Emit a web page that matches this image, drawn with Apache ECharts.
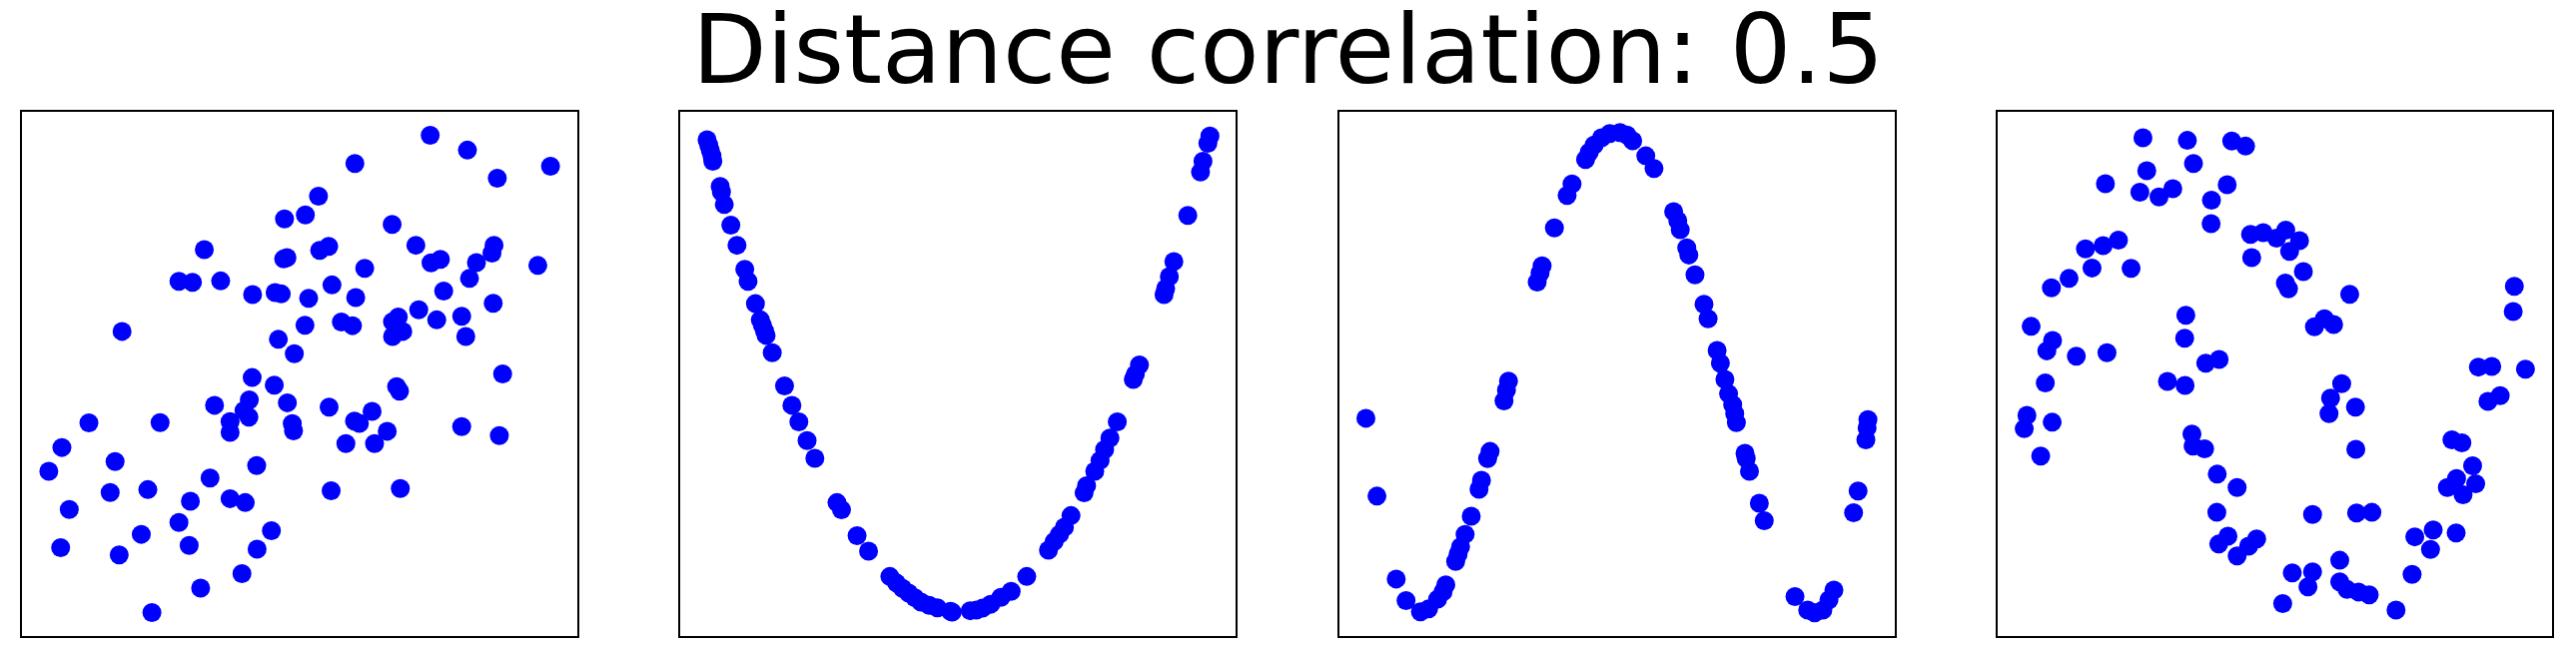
<!DOCTYPE html>
<html><head><meta charset="utf-8">
<script src="https://cdn.jsdelivr.net/npm/echarts@6/dist/echarts.min.js"></script>
<style>html,body{margin:0;padding:0;background:#fff}#c{width:2579px;height:655px}</style>
</head><body><div id="c"></div>
<script>
const title = "Distance correlation: 0.5";
// points read in per-panel pixel units (y grows downward); ranges = panel frame edges
const linearPts = [[1055,123],[1146,164],[871,201],[1349,209],[1219,242],[782,292],[699,355],[750,344],[962,370],[503,440],[1020,428],[1211,428],[1206,450],[785,442],[807,431],[697,466],[705,462],[1057,477],[1080,467],[1168,476],[1318,484],[895,492],[441,528],[474,531],[543,527],[1151,520],[621,565],[676,559],[691,563],[758,575],[815,538],[873,573],[1088,555],[1209,589],[1027,607],[1132,625],[1071,635],[749,650],[838,641],[865,651],[963,640],[977,627],[988,667],[963,681],[1142,681],[302,667],[684,689],[723,729],[620,795],[674,816],[973,820],[980,833],[1232,785],[528,872],[613,857],[600,887],[612,905],[706,865],[808,877],[913,889],[870,916],[882,922],[566,917],[566,947],[718,923],[721,943],[950,944],[1132,931],[1224,956],[221,921],[395,920],[849,978],[919,978],[155,989],[285,1028],[123,1055],[631,1039],[517,1074],[273,1114],[365,1106],[813,1109],[982,1103],[469,1138],[566,1131],[603,1142],[173,1161],[441,1197],[667,1220],[349,1230],[152,1267],[466,1261],[632,1271],[295,1287],[595,1339],[494,1379],[375,1447]];
const parabolaPts = [[118,135],[122,150],[126,165],[130,180],[132,195],[150,265],[153,280],[160,315],[176,372],[191,428],[210,495],[218,528],[236,590],[248,635],[253,650],[258,665],[262,678],[277,726],[307,818],[325,872],[342,918],[362,970],[381,1019],[435,1142],[446,1162],[484,1234],[512,1277],[564,1347],[580,1365],[595,1380],[610,1393],[625,1406],[640,1418],[660,1427],[680,1434],[712,1444],[716,1446],[760,1442],[775,1440],[790,1435],[810,1424],[835,1405],[860,1388],[898,1347],[951,1274],[965,1250],[978,1230],[990,1210],[1006,1178],[1038,1115],[1044,1095],[1064,1055],[1077,1025],[1088,995],[1101,963],[1119,918],[1158,800],[1163,786],[1173,760],[1233,565],[1237,548],[1246,515],[1257,473],[1291,345],[1322,225],[1328,195],[1340,145],[1345,125]];
const sinePts = [[115,908],[142,1124],[189,1354],[213,1414],[248,1445],[268,1437],[290,1410],[303,1390],[310,1370],[334,1305],[340,1285],[346,1265],[357,1230],[372,1180],[391,1105],[397,1080],[412,1020],[418,1000],[452,860],[458,830],[463,805],[533,530],[540,505],[545,485],[575,380],[606,290],[618,258],[651,190],[660,170],[672,150],[690,130],[710,118],[735,115],[752,122],[766,138],[798,180],[818,215],[866,335],[876,360],[882,385],[898,435],[903,455],[918,510],[940,592],[950,632],[972,720],[980,755],[991,800],[1000,840],[1010,870],[1015,895],[1019,920],[1040,1005],[1043,1020],[1051,1055],[1075,1144],[1087,1192],[1162,1403],[1193,1440],[1210,1448],[1230,1440],[1245,1412],[1257,1385],[1305,1170],[1316,1110],[1335,968],[1338,935],[1340,912]];
const ringPts = [[429,130],[545,137],[661,139],[697,153],[561,201],[439,221],[331,257],[421,281],[471,294],[507,271],[649,260],[608,303],[607,368],[710,398],[743,393],[778,408],[802,386],[838,415],[812,445],[713,462],[365,414],[325,429],[279,438],[296,491],[398,492],[236,520],[190,546],[848,501],[801,533],[809,549],[969,564],[1399,542],[1396,612],[541,622],[538,686],[877,654],[903,632],[927,648],[137,653],[193,692],[178,721],[255,736],[335,726],[593,755],[628,745],[1305,766],[1340,764],[1428,772],[493,806],[539,817],[174,810],[948,812],[919,852],[915,895],[984,877],[1330,861],[1362,845],[126,900],[119,937],[192,919],[557,952],[560,985],[590,993],[985,994],[1236,968],[1262,976],[162,1013],[1290,1040],[1248,1075],[1224,1100],[1298,1090],[1265,1120],[623,1063],[675,1100],[622,1169],[872,1175],[987,1171],[1027,1169],[651,1235],[627,1257],[726,1243],[705,1263],[675,1290],[1139,1237],[1187,1218],[1180,1272],[1247,1226],[943,1302],[819,1337],[872,1334],[860,1376],[943,1362],[962,1383],[992,1390],[1020,1398],[1132,1341],[794,1422],[1090,1440]];
const xRanges = [[55,1417],[50,1410],[48,1408],[47,1500]];
const yRange = [55,1515];
const allPts = [linearPts, parabolaPts, sinePts, ringPts];

const lefts = [21, 680, 1340, 1999], widths = [558, 558, 558, 557];
const chart = echarts.init(document.getElementById('c'));
chart.setOption({
  animation:false,
  title:{text:title,left:'center',top:4,textStyle:{fontFamily:'DejaVu Sans',fontSize:97,fontWeight:'normal',color:'#000'}},
  grid: lefts.map((l,i)=>({left:l,top:111,width:widths[i],height:527,show:true,borderColor:'#000',borderWidth:2,backgroundColor:'#fff'})),
  xAxis: xRanges.map((r,i)=>({gridIndex:i,type:'value',min:r[0],max:r[1],show:false})),
  yAxis: xRanges.map((r,i)=>({gridIndex:i,type:'value',min:yRange[0],max:yRange[1],inverse:true,show:false})),
  series: allPts.map((d,i)=>({type:'scatter',xAxisIndex:i,yAxisIndex:i,data:d,symbolSize:19,itemStyle:{color:'#0000ff',opacity:1}}))
});
</script></body></html>
